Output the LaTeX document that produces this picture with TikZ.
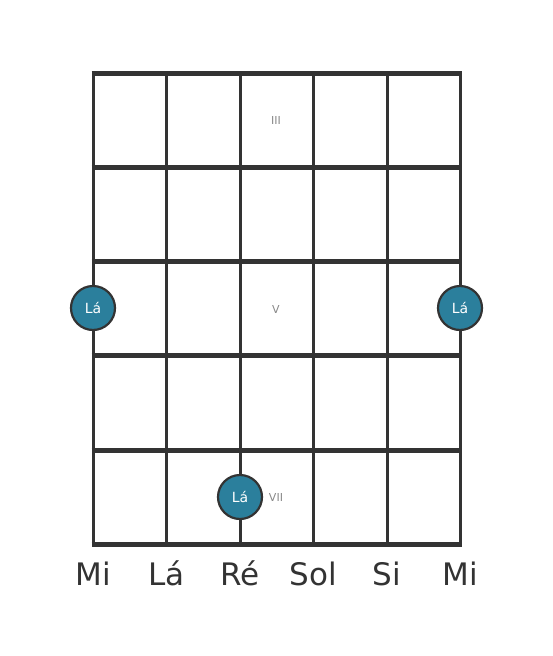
\documentclass[tikz,border=0pt]{standalone}
\usepackage{fontspec}
\setmainfont{DejaVu Sans}
\definecolor{linec}{HTML}{333333}
\definecolor{dotc}{HTML}{2B7F9C}
\definecolor{numc}{HTML}{888888}
\begin{document}
\begin{tikzpicture}[x=1pt,y=-1pt,
  stringline/.style={draw=linec,line width=3pt},
  fretline/.style={draw=linec,line width=5pt},
  notedot/.style={circle,fill=dotc,draw=linec,line width=2.2pt,minimum size=44pt,inner sep=0pt,text=white,font=\fontsize{14}{14}\selectfont},
  fretnum/.style={text=numc,font=\fontsize{11}{11}\selectfont,inner sep=0pt},
  strname/.style={text=linec,font=\fontsize{31}{31}\selectfont,inner sep=0pt}]
\useasboundingbox (0,0) rectangle (553,656);
\foreach \x/\n in {93/s1,166.5/s2,240/s3,313/s4,387/s5,460/s6}{
  \coordinate (\n t) at (\x,73);
  \coordinate (\n b) at (\x,544);
  \draw[stringline] (\n t) -- (\n b);
}
\foreach \y/\n in {73/f0,167/f1,261/f2,355/f3,450/f4,544/f5}{
  \coordinate (\n l) at (91.5,\y);
  \coordinate (\n r) at (461.5,\y);
  \draw[fretline] (\n l) -- (\n r);
}
\node[fretnum] (n3) at (276,120) {III};
\node[fretnum] (n5) at (276,309) {V};
\node[fretnum] (n7) at (276,497) {VII};
\node[notedot] (d1) at (93,308) {Lá};
\node[notedot] (d2) at (460,308) {Lá};
\node[notedot] (d3) at (240,497) {Lá};
\foreach \x/\t/\n in {93/Mi/l1,166.5/Lá/l2,240/Ré/l3,313/Sol/l4,387/Si/l5,460/Mi/l6}{
  \node[strname,anchor=base] (\n) at (\x,585) {\t};
}
\end{tikzpicture}
\end{document}
